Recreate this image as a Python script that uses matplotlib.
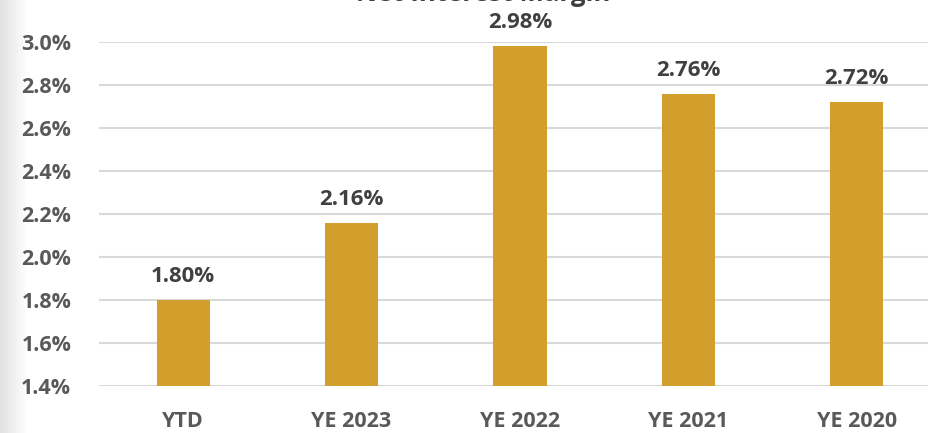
import matplotlib.pyplot as plt
import numpy as np

## data
categories = ['YTD', 'YE 2023', 'YE 2022', 'YE 2021', 'YE 2020']
margin = [1.80, 2.16, 2.98, 2.76, 2.72]
yticks = [1.4, 1.6, 1.8, 2.0, 2.2, 2.4, 2.6, 2.8, 3.0]

bar_color = '#D29F2C'
text_color = '#595959'

plt.rcParams['font.family'] = ['Open Sans', 'DejaVu Sans']

fig = plt.figure(figsize=(9.29, 4.33), dpi=100)

# faint shadow along the left edge
bg = fig.add_axes([0, 0, 0.03, 1], zorder=-5)
grad = np.linspace(0.88, 1.0, 50).reshape(1, -1)
bg.imshow(grad, aspect='auto', cmap='gray', vmin=0, vmax=1, extent=[0, 1, 0, 1])
bg.axis('off')

ax = fig.add_axes([99 / 929, 47 / 433, 842 / 929, 344 / 433])
ax.set_facecolor('none')
x = np.arange(len(categories))
bars = ax.bar(x, margin, width=0.315, color=bar_color, zorder=3)

for xi, v in zip(x, margin):
    ax.text(xi, v + 0.06, f'{v:.2f}%', ha='center', va='bottom',
            fontsize=16, fontweight='bold', color='#404040')

## axes
ax.set_ylim(1.4, 3.0)
ax.set_xlim(-0.5, 4.5)
ax.set_yticks(yticks)
ax.set_yticklabels([f'{t:.1f}%' for t in yticks])
ax.set_xticks(x)
ax.set_xticklabels(categories)
ax.tick_params(axis='y', length=0, labelsize=15.5, labelcolor=text_color, pad=20)
ax.tick_params(axis='x', length=0, labelsize=15.5, labelcolor=text_color, pad=18)
for lbl in ax.get_xticklabels() + ax.get_yticklabels():
    lbl.set_fontweight('bold')
ax.yaxis.grid(True, color='#D9D9D9', linewidth=1.5, zorder=0)
for s in ax.spines.values():
    s.set_visible(False)

# title sits mostly above the visible area, as in the source screenshot
fig.text(0.52, 1.0 - 1 / 433, 'Net Interest Margin', ha='center', va='baseline',
         fontsize=18.5, fontweight='bold', color='#404040')

fig.savefig('out.png', dpi=100)
